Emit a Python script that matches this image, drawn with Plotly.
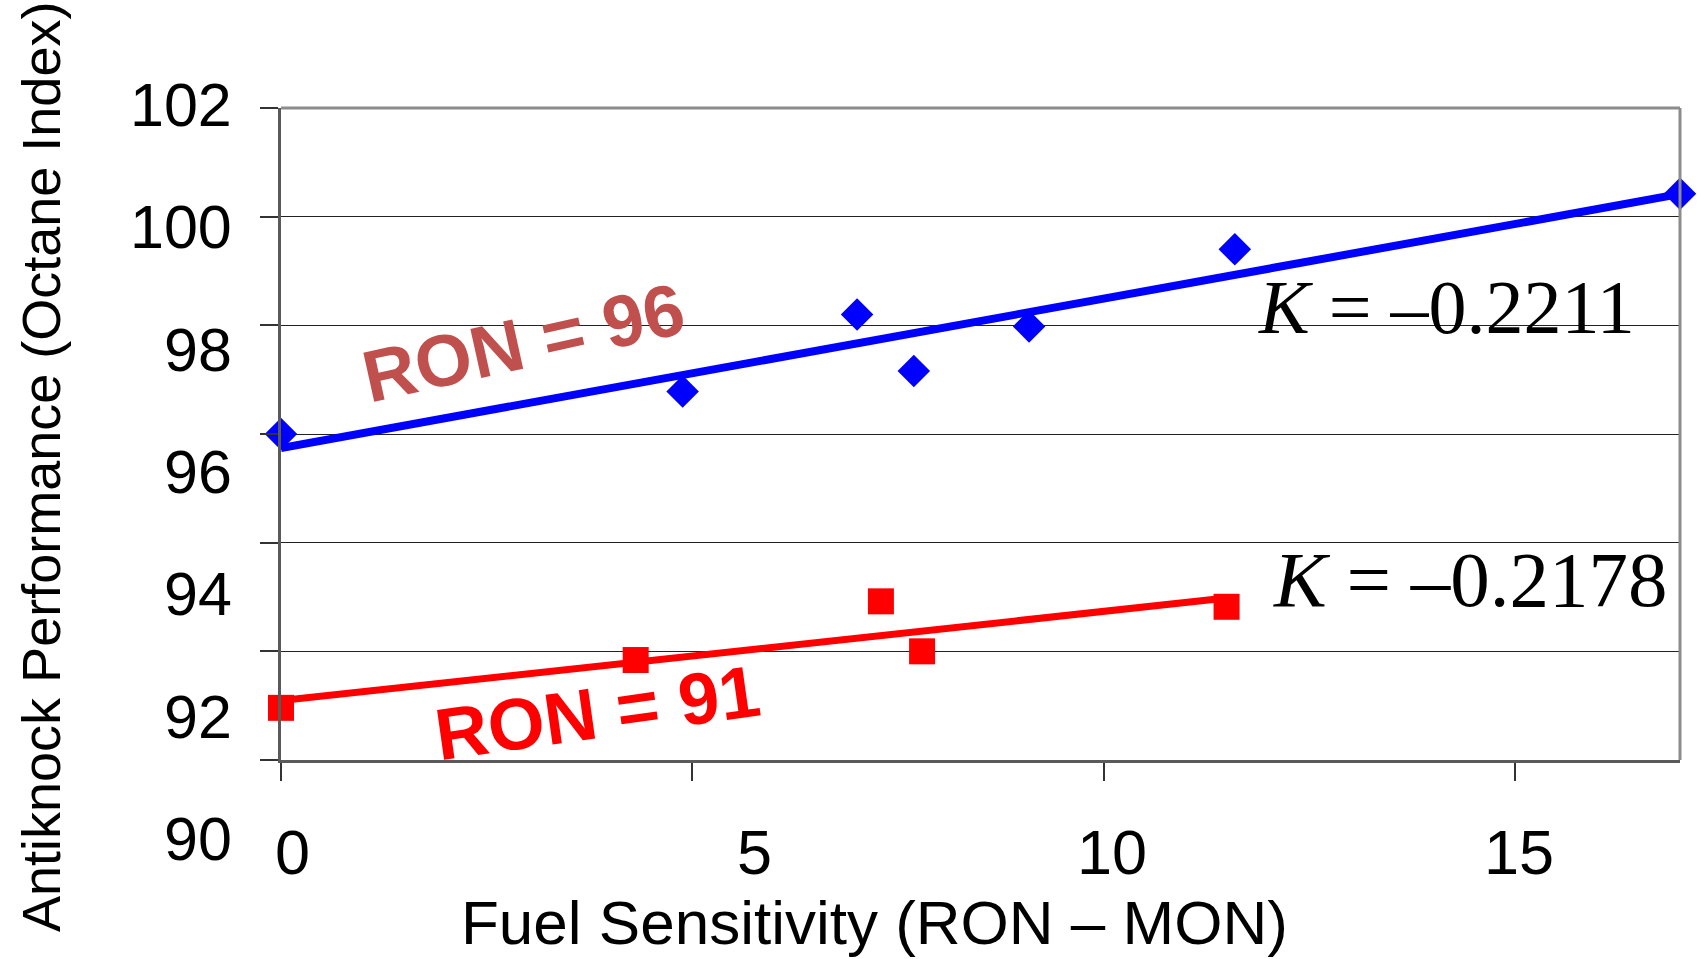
import numpy as np
import plotly.graph_objects as go

# ---------------- data ----------------
ron96_sensitivity = [0.0, 4.88, 7.0, 7.69, 9.09, 11.59, 17.0]
ron96_octane_index = [96.0, 96.78, 98.2, 97.16, 97.98, 99.4, 100.42]

ron91_sensitivity = [0.0, 4.31, 7.29, 7.79, 11.49]
ron91_octane_index = [90.96, 91.84, 92.92, 92.0, 92.82]

y_tick_values = [102, 100, 98, 96, 94, 92, 90]
x_tick_values = [0, 5, 10, 15]

label_96 = "RON = 96"
label_91 = "RON = 91"
k_96 = "<i>K</i> = \u20130.2211"
k_91 = "<i>K</i> = \u20130.2178"

# ---------------- layout geometry ----------------
W, H = 1702, 959
L, R, T, B = 281, 22, 108, 199
PW, PH = W - L - R, H - T - B


def px_x(px):
    return (px - L) / PW


def px_y(py):
    return (H - B - py) / PH


# linear trendlines (Excel-style least squares)
b96 = np.polyfit(ron96_sensitivity, ron96_octane_index, 1)
b91 = np.polyfit(ron91_sensitivity, ron91_octane_index, 1)
tx96 = np.array([min(ron96_sensitivity), max(ron96_sensitivity)])
tx91 = np.array([min(ron91_sensitivity), max(ron91_sensitivity)])

fig = go.Figure()
fig.add_trace(go.Scatter(x=tx96, y=np.polyval(b96, tx96), mode="lines",
                         line=dict(color="#0000FF", width=8), cliponaxis=False,
                         showlegend=False, hoverinfo="skip"))
fig.add_trace(go.Scatter(x=tx91, y=np.polyval(b91, tx91), mode="lines",
                         line=dict(color="#FF0000", width=7), cliponaxis=False,
                         showlegend=False, hoverinfo="skip"))
fig.add_trace(go.Scatter(x=ron96_sensitivity, y=ron96_octane_index, mode="markers",
                         marker=dict(symbol="diamond", size=25, color="#0000FF",
                                     line=dict(width=0)),
                         cliponaxis=False, showlegend=False))
fig.add_trace(go.Scatter(x=ron91_sensitivity, y=ron91_octane_index, mode="markers",
                         marker=dict(symbol="square", size=26, color="#FF0000",
                                     line=dict(width=0)),
                         cliponaxis=False, showlegend=False))

annotations = []
# y tick labels (stretched placement as in the reference)
y_label_top, y_label_step = 105, 122.3
for i, v in enumerate(y_tick_values):
    annotations.append(dict(x=px_x(234), y=px_y(y_label_top + i * y_label_step),
                            xref="paper", yref="paper", text=str(v), showarrow=False,
                            xanchor="right", yanchor="middle",
                            font=dict(family="Liberation Sans", size=61, color="black")))
# x tick labels
x_label_px = [292, 754, 1112, 1519]
for v, xp in zip(x_tick_values, x_label_px):
    annotations.append(dict(x=px_x(xp), y=px_y(852), xref="paper", yref="paper",
                            text=str(v), showarrow=False, xanchor="center", yanchor="middle",
                            font=dict(family="Liberation Sans", size=63, color="black")))
# axis titles
annotations.append(dict(x=px_x(874), y=px_y(922), xref="paper", yref="paper",
                        text="Fuel Sensitivity (RON \u2013 MON)", showarrow=False,
                        xanchor="center", yanchor="middle",
                        font=dict(family="Liberation Sans", size=62, color="black")))
annotations.append(dict(x=px_x(41), y=px_y(467), xref="paper", yref="paper",
                        text="Antiknock Performance (Octane Index)", showarrow=False,
                        textangle=-90, xanchor="center", yanchor="middle",
                        font=dict(family="Liberation Sans", size=54, color="black")))
# series labels
annotations.append(dict(x=px_x(523), y=px_y(342), xref="paper", yref="paper",
                        text="<b>" + label_96 + "</b>", showarrow=False, textangle=-12.5,
                        xanchor="center", yanchor="middle",
                        font=dict(family="Liberation Sans", size=73, color="#C0504D")))
annotations.append(dict(x=px_x(597), y=px_y(712), xref="paper", yref="paper",
                        text="<b>" + label_91 + "</b>", showarrow=False, textangle=-8,
                        xanchor="center", yanchor="middle",
                        font=dict(family="Liberation Sans", size=73, color="#FF0000")))
annotations.append(dict(x=px_x(1446), y=px_y(307), xref="paper", yref="paper",
                        text=k_96, showarrow=False, xanchor="center", yanchor="middle",
                        font=dict(family="Liberation Serif", size=76, color="black")))
annotations.append(dict(x=px_x(1470), y=px_y(579), xref="paper", yref="paper",
                        text=k_91, showarrow=False, xanchor="center", yanchor="middle",
                        font=dict(family="Liberation Serif", size=79, color="black")))

shapes = [
    dict(type="line", xref="paper", yref="paper", x0=0, x1=1, y0=1, y1=1,
         line=dict(color="#8C8C8C", width=3), layer="above"),
    dict(type="line", xref="paper", yref="paper", x0=1, x1=1, y0=0, y1=1,
         line=dict(color="#8C8C8C", width=3), layer="above"),
]

fig.update_layout(
    width=W, height=H, autosize=False,
    margin=dict(l=L, r=R, t=T, b=B, pad=0),
    paper_bgcolor="white", plot_bgcolor="white",
    annotations=annotations, shapes=shapes,
    xaxis=dict(range=[0, 17], tickvals=x_tick_values, showticklabels=False,
               ticks="outside", ticklen=18, tickwidth=1.5, tickcolor="#333",
               showgrid=False, zeroline=False, showline=True, linecolor="#5A5A5A",
               linewidth=3),
    yaxis=dict(range=[90, 102], tickvals=y_tick_values, showticklabels=False,
               ticks="outside", ticklen=18, tickwidth=1.5, tickcolor="#333",
               showgrid=True, gridcolor="#222", gridwidth=1, zeroline=False,
               showline=True, linecolor="#5A5A5A", linewidth=3),
)

fig.write_html("out.html")
